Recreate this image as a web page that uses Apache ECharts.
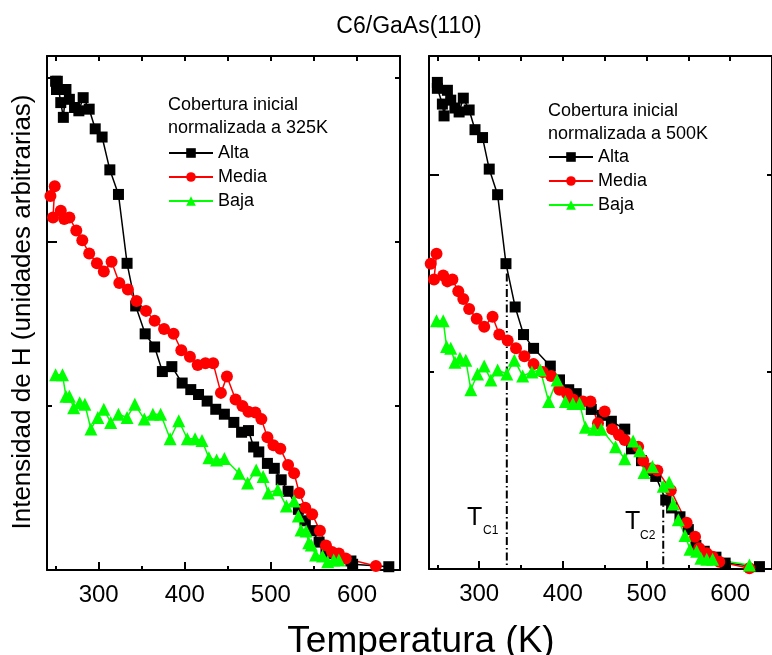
<!DOCTYPE html>
<html>
<head>
<meta charset="utf-8">
<title>C6/GaAs(110)</title>
<script src="https://cdn.jsdelivr.net/npm/echarts@6/dist/echarts.min.js"></script>
<style>
  html, body { margin: 0; padding: 0; background: #fff; }
  #chart { width: 772px; height: 655px; }
</style>
</head>
<body>
<div id="chart"></div>
<script>
// temperatura (K), intensidad (u. arb.)
var leftAlta = [[250,2.98],[251,2.93],[252,2.98],[256,2.85],[259,2.76],[262,2.93],[266,2.87],[272,2.82],[277,2.80],[282,2.88],[289,2.81],[296,2.69],[304,2.64],[313,2.44],[323,2.29],[333,1.87],[343,1.61],[354,1.44],[365,1.36],[374,1.21],[385,1.24],[397,1.14],[407,1.10],[416,1.07],[426,1.03],[436,0.98],[446,0.95],[457,0.90],[466,0.84],[474,0.85],[480,0.75],[486,0.72],[496,0.65],[504,0.62],[512,0.55],[520,0.48],[532,0.37],[540,0.30],[548,0.24],[556,0.17],[564,0.11],[571,0.10],[581,0.07],[593,0.055],[595,0.035],[637,0.02]];
var leftMedia = [[244,2.28],[249,2.34],[247,2.15],[256,2.19],[260,2.14],[266,2.15],[274,2.07],[281,2.01],[289,1.93],[298,1.87],[306,1.82],[315,1.88],[324,1.75],[334,1.71],[344,1.64],[355,1.58],[365,1.52],[376,1.47],[387,1.44],[396,1.34],[406,1.30],[415,1.25],[424,1.26],[433,1.26],[442,1.08],[449,1.18],[459,1.04],[467,1.00],[474,0.965],[482,0.96],[489,0.92],[496,0.81],[503,0.76],[511,0.74],[520,0.64],[527,0.59],[533,0.47],[540,0.38],[548,0.34],[557,0.24],[564,0.15],[571,0.11],[579,0.10],[587,0.07],[622,0.024]];
var leftBaja = [[250,1.19],[258,1.19],[262,1.06],[266,1.06],[271,0.99],[278,1.02],[284,1.01],[291,0.86],[299,0.93],[306,0.98],[314,0.90],[323,0.95],[333,0.93],[342,1.01],[353,0.92],[363,0.95],[372,0.95],[383,0.80],[393,0.91],[403,0.80],[412,0.80],[420,0.79],[428,0.685],[437,0.67],[446,0.68],[463,0.59],[473,0.53],[483,0.61],[491,0.57],[497,0.47],[508,0.49],[518,0.39],[527,0.42],[532,0.33],[535,0.244],[541,0.238],[544,0.166],[547,0.152],[552,0.091],[560,0.085],[566,0.051],[573,0.061],[579,0.061]];

var rightAlta = [[250,2.47],[250,2.44],[256,2.36],[258,2.30],[262,2.43],[266,2.38],[271,2.34],[276,2.32],[281,2.39],[288,2.33],[295,2.23],[304,2.19],[312,2.03],[322,1.90],[332,1.55],[343,1.33],[353,1.19],[365,1.12],[385,1.03],[396,0.96],[407,0.91],[416,0.89],[434,0.81],[447,0.78],[458,0.75],[474,0.71],[482,0.61],[494,0.55],[503,0.50],[511,0.47],[523,0.35],[530,0.31],[540,0.265],[550,0.20],[559,0.12],[569,0.09],[583,0.06],[594,0.03],[635,0.012]];
var rightMedia = [[242,1.55],[249,1.60],[246,1.47],[257,1.49],[262,1.46],[268,1.47],[275,1.41],[281,1.37],[288,1.32],[297,1.27],[306,1.23],[316,1.28],[324,1.19],[334,1.16],[344,1.12],[354,1.08],[365,1.04],[376,1.00],[386,0.98],[396,0.91],[405,0.89],[412,0.86],[424,0.85],[433,0.85],[442,0.74],[450,0.80],[459,0.71],[467,0.68],[474,0.655],[490,0.62],[496,0.55],[505,0.51],[513,0.50],[529,0.40],[548,0.235],[558,0.164],[563,0.105],[572,0.08],[579,0.062],[587,0.037],[623,0.004]];
var rightBaja = [[249,1.26],[257,1.26],[261,1.13],[266,1.12],[271,1.05],[277,1.07],[284,1.06],[290,0.91],[298,0.99],[306,1.03],[314,0.96],[322,1.01],[333,0.99],[342,1.06],[352,0.98],[363,1.00],[373,1.01],[383,0.85],[393,0.96],[403,0.85],[412,0.84],[420,0.84],[427,0.72],[437,0.71],[446,0.71],[463,0.62],[474,0.56],[484,0.65],[492,0.60],[497,0.49],[507,0.52],[520,0.42],[527,0.44],[532,0.33],[538,0.25],[546,0.17],[552,0.10],[560,0.09],[565,0.054],[572,0.049],[579,0.049],[623,0.02]];

// temperaturas criticas (panel derecho)
var tc1 = [[333,1.5],[333,0]];
var tc2 = [[520,0.38],[520,0]];

var xMajor = [300, 400, 500, 600];
var xMinor = [250, 350, 450, 550];
var xTop = [250, 300, 350, 400, 450, 500, 550, 600, 650];
var seriesNames = ['Alta', 'Media', 'Baja'];

var font = 'Liberation Sans, Arial, sans-serif';
var chart = echarts.init(document.getElementById('chart'));

// ejes de un panel
function xAxes(g) {
  return [
    {
      gridIndex: g, type: 'value', min: 240, max: 650, position: 'bottom',
      axisLine: { show: true, onZero: false, lineStyle: { color: '#000', width: 2 } },
      axisTick: { show: true, inside: true, length: 8, customValues: xMajor, lineStyle: { color: '#000', width: 2 } },
      axisLabel: { show: true, customValues: xMajor, fontSize: 24, color: '#000', fontFamily: font, margin: 13 },
      splitLine: { show: false }
    },
    {
      gridIndex: g, type: 'value', min: 240, max: 650, position: 'bottom',
      axisLine: { show: false },
      axisTick: { show: true, inside: true, length: 4, customValues: xMinor, lineStyle: { color: '#000', width: 2 } },
      axisLabel: { show: false },
      splitLine: { show: false }
    },
    {
      gridIndex: g, type: 'value', min: 240, max: 650, position: 'top',
      axisLine: { show: true, onZero: false, lineStyle: { color: '#000', width: 2 } },
      axisTick: { show: true, inside: true, length: 5, customValues: xTop, lineStyle: { color: '#000', width: 2 } },
      axisLabel: { show: false },
      splitLine: { show: false }
    }
  ];
}

function yAxes(g, yMax, minor) {
  return [
    {
      gridIndex: g, type: 'value', min: 0, max: yMax, position: 'left',
      axisLine: { show: true, onZero: false, lineStyle: { color: '#000', width: 2 } },
      axisTick: { show: true, inside: true, length: 10, customValues: [0, 2], lineStyle: { color: '#000', width: 2 } },
      axisLabel: { show: false },
      splitLine: { show: false }
    },
    {
      gridIndex: g, type: 'value', min: 0, max: yMax, position: 'left',
      axisLine: { show: false },
      axisTick: { show: true, inside: true, length: 5, customValues: minor, lineStyle: { color: '#000', width: 2 } },
      axisLabel: { show: false },
      splitLine: { show: false }
    },
    {
      gridIndex: g, type: 'value', min: 0, max: yMax, position: 'right',
      axisLine: { show: true, onZero: false, lineStyle: { color: '#000', width: 2 } },
      axisTick: { show: true, inside: true, length: 5, customValues: [1, 2, 3], lineStyle: { color: '#000', width: 2 } },
      axisLabel: { show: false },
      splitLine: { show: false }
    }
  ];
}

function dataSeries(name, data, g, symbol, size, color) {
  return {
    name: name,
    type: 'line',
    xAxisIndex: g * 3,
    yAxisIndex: g * 3,
    data: data,
    symbol: symbol,
    symbolSize: size,
    showAllSymbol: true,
    itemStyle: { color: color },
    lineStyle: { color: color, width: 1.5 },
    z: 3
  };
}

function tcSeries(data) {
  return {
    type: 'line',
    xAxisIndex: 3,
    yAxisIndex: 3,
    data: data,
    symbol: 'none',
    silent: true,
    lineStyle: { color: '#000', width: 2, type: [8, 3, 1.5, 3] },
    z: 2
  };
}

function legendAt(left, top) {
  return {
    data: seriesNames,
    orient: 'vertical',
    left: left,
    top: top,
    padding: 0,
    itemWidth: 44,
    itemHeight: 12,
    itemGap: 6,
    selectedMode: false,
    textStyle: { fontSize: 18, color: '#000', fontFamily: font }
  };
}

function txt(text, x, y, size, extra) {
  var el = {
    type: 'text',
    x: x,
    y: y,
    style: {
      text: text,
      fontSize: size,
      fontFamily: font,
      fill: '#000',
      align: 'left',
      textAlign: 'left',
      verticalAlign: 'middle',
      textVerticalAlign: 'middle'
    }
  };
  if (extra) {
    for (var k in extra) el.style[k] = extra[k];
  }
  return el;
}

var option = {
  animation: false,
  backgroundColor: '#fff',
  grid: [
    { left: 47, top: 56, width: 353, height: 514 },
    { left: 429, top: 56, width: 353, height: 513 }
  ],
  xAxis: xAxes(0).concat(xAxes(1)),
  yAxis: yAxes(0, 514 / 164, [1, 3]).concat(yAxes(1, 513 / 197, [1])),
  legend: [legendAt(168, 144), legendAt(548, 148)],
  series: [
    dataSeries('Alta', leftAlta, 0, 'rect', 11, '#000000'),
    dataSeries('Media', leftMedia, 0, 'circle', 12, '#ff0000'),
    dataSeries('Baja', leftBaja, 0, 'triangle', 13, '#00ff00'),
    dataSeries('Alta', rightAlta, 1, 'rect', 11, '#000000'),
    dataSeries('Media', rightMedia, 1, 'circle', 12, '#ff0000'),
    dataSeries('Baja', rightBaja, 1, 'triangle', 13, '#00ff00'),
    tcSeries(tc1),
    tcSeries(tc2)
  ],
  graphic: [
    txt('C6/GaAs(110)', 409, 27, 23, { align: 'center', textAlign: 'center' }),
    txt('Temperatura (K)', 421, 642, 37, { align: 'center', textAlign: 'center' }),
    {
      type: 'text',
      x: 23,
      y: 312,
      rotation: Math.PI / 2,
      style: {
        text: 'Intensidad de H (unidades arbitrarias)',
        fontSize: 26, fontFamily: font, fill: '#000',
        align: 'center', textAlign: 'center',
        verticalAlign: 'middle', textVerticalAlign: 'middle'
      }
    },
    txt('Cobertura inicial\nnormalizada a 325K', 168, 93.5, 18, { verticalAlign: 'top', textVerticalAlign: 'top', lineHeight: 23 }),
    txt('Cobertura inicial\nnormalizada a 500K', 548, 100, 18, { verticalAlign: 'top', textVerticalAlign: 'top', lineHeight: 23 }),
    txt('T', 467, 518, 25),
    txt('C1', 483, 531, 12),
    txt('T', 625, 522, 25),
    txt('C2', 640, 536, 12)
  ]
};

chart.setOption(option);
</script>
</body>
</html>
